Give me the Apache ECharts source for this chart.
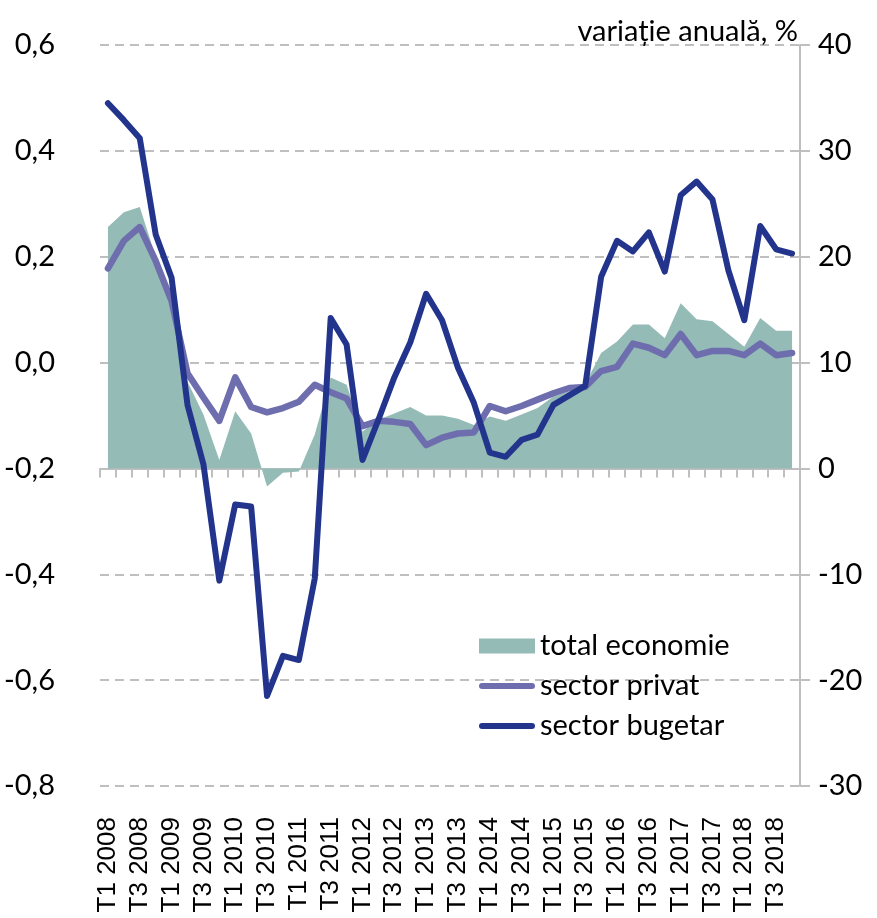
<!DOCTYPE html>
<html>
<head>
<meta charset="utf-8">
<script src="https://cdn.jsdelivr.net/npm/echarts@6/dist/echarts.min.js"></script>
<style>
html,body{margin:0;padding:0;background:#fff;}
#chart{width:877px;height:918px;}
</style>
</head>
<body>
<div id="chart"></div>
<script>
const years = [2008,2009,2010,2011,2012,2013,2014,2015,2016,2017,2018];
const categories = [];
years.forEach(function(y){ for (let q = 1; q <= 4; q++) categories.push('T' + q + ' ' + y); });

const totalEconomie = [22.8, 24.2, 24.7, 20.0, 14.9, 8.2, 5.1, 0.8, 5.4, 3.3, -1.7, -0.4, -0.3, 3.2, 8.6, 7.9, 3.5, 4.6, 5.2, 5.8, 5.0, 5.0, 4.7, 4.1, 4.9, 4.5, 5.1, 5.7, 6.8, 7.3, 8.0, 10.9, 12.0, 13.6, 13.6, 12.3, 15.6, 14.1, 13.9, 12.7, 11.5, 14.2, 13.0, 13.0];
const sectorPrivat = [18.9, 21.5, 22.8, 19.6, 15.8, 9.0, 6.7, 4.5, 8.6, 5.8, 5.3, 5.7, 6.3, 7.9, 7.2, 6.6, 4.0, 4.5, 4.4, 4.2, 2.2, 2.9, 3.3, 3.4, 5.9, 5.4, 5.9, 6.5, 7.1, 7.6, 7.7, 9.2, 9.6, 11.8, 11.4, 10.7, 12.7, 10.7, 11.1, 11.1, 10.7, 11.8, 10.7, 10.9];
const sectorBugetar = [34.5, 32.9, 31.2, 22.1, 18.0, 6.0, 0.4, -10.6, -3.4, -3.6, -21.5, -17.7, -18.1, -10.4, 14.2, 11.7, 0.8, 4.6, 8.6, 11.9, 16.5, 14.0, 9.5, 6.2, 1.5, 1.1, 2.7, 3.2, 6.0, 6.9, 7.8, 18.1, 21.5, 20.5, 22.3, 18.6, 25.8, 27.1, 25.4, 18.7, 14.0, 22.9, 20.7, 20.3];

const leftAxis = {min: -0.8, max: 0.6, interval: 0.2};
const rightAxis = {min: -30, max: 40, interval: 10};
const seriesNames = ['total economie', 'sector privat', 'sector bugetar'];
const titleText = 'variație anuală, %';

const chart = echarts.init(document.getElementById('chart'), null, {renderer: 'canvas'});
const grey = '#BFBFBF';
const uiFont = 'Lato';
const lineIcon = 'path://M3,0 L53,0 A3,3 0 0 1 53,6 L3,6 A3,3 0 0 1 3,0 Z';

chart.setOption({
  backgroundColor: '#ffffff',
  animation: false,
  title: {
    text: titleText,
    right: 74,
    top: 12,
    textStyle: {fontFamily: uiFont, fontSize: 29, fontWeight: 'normal', color: '#000'}
  },
  legend: {
    orient: 'vertical',
    left: 474,
    top: 625,
    itemWidth: 56,
    itemHeight: 15,
    itemGap: 8,
    textStyle: {fontFamily: uiFont, fontSize: 29, color: '#000', lineHeight: 32},
    data: [
      {name: seriesNames[0], icon: 'rect'},
      {name: seriesNames[1], icon: lineIcon},
      {name: seriesNames[2], icon: lineIcon}
    ]
  },
  grid: {left: 100, right: 77, top: 45, bottom: 132, containLabel: false},
  xAxis: [
    {
      type: 'category',
      data: categories,
      boundaryGap: true,
      axisLine: {show: true, onZero: true, onZeroAxisIndex: 1, lineStyle: {color: grey, width: 2}},
      axisTick: {show: true, interval: 0, length: 9, lineStyle: {color: grey, width: 2}},
      axisLabel: {show: false},
      splitLine: {show: false}
    },
    {
      type: 'category',
      data: categories,
      position: 'bottom',
      boundaryGap: true,
      axisLine: {show: false, onZero: false},
      axisTick: {show: false},
      axisLabel: {
        show: true, interval: 1, rotate: 90, margin: 31,
        fontFamily: 'Liberation Sans', fontSize: 26, color: '#000'
      },
      splitLine: {show: false}
    }
  ],
  yAxis: [
    {
      type: 'value',
      position: 'left',
      min: leftAxis.min, max: leftAxis.max, interval: leftAxis.interval,
      axisLine: {show: false},
      axisTick: {show: false},
      axisLabel: {
        margin: 45, fontFamily: uiFont, fontSize: 29, color: '#000',
        formatter: function(v){ return v.toFixed(1).replace('.', ','); }
      },
      splitLine: {show: true, lineStyle: {color: grey, width: 2, type: [9, 6]}}
    },
    {
      type: 'value',
      position: 'right',
      min: rightAxis.min, max: rightAxis.max, interval: rightAxis.interval,
      axisLine: {show: true, lineStyle: {color: grey, width: 2}},
      axisTick: {show: true, length: 10, lineStyle: {color: grey, width: 2}},
      axisLabel: {margin: 18, fontFamily: uiFont, fontSize: 29, color: '#000'},
      splitLine: {show: false}
    }
  ],
  series: [
    {
      name: seriesNames[0],
      type: 'line',
      xAxisIndex: 0, yAxisIndex: 1,
      data: totalEconomie,
      symbol: 'none',
      lineStyle: {width: 0, color: '#95BBB7'},
      itemStyle: {color: '#95BBB7'},
      areaStyle: {color: '#95BBB7', opacity: 1},
      z: 1
    },
    {
      name: seriesNames[1],
      type: 'line',
      xAxisIndex: 0, yAxisIndex: 1,
      data: sectorPrivat,
      symbol: 'none',
      lineStyle: {width: 6.5, color: '#6E6EAF', join: 'round', cap: 'round'},
      itemStyle: {color: '#6E6EAF'},
      z: 3
    },
    {
      name: seriesNames[2],
      type: 'line',
      xAxisIndex: 0, yAxisIndex: 1,
      data: sectorBugetar,
      symbol: 'none',
      lineStyle: {width: 6, color: '#23348C', join: 'round', cap: 'round'},
      itemStyle: {color: '#23348C'},
      z: 4
    }
  ]
});
</script>
</body>
</html>
